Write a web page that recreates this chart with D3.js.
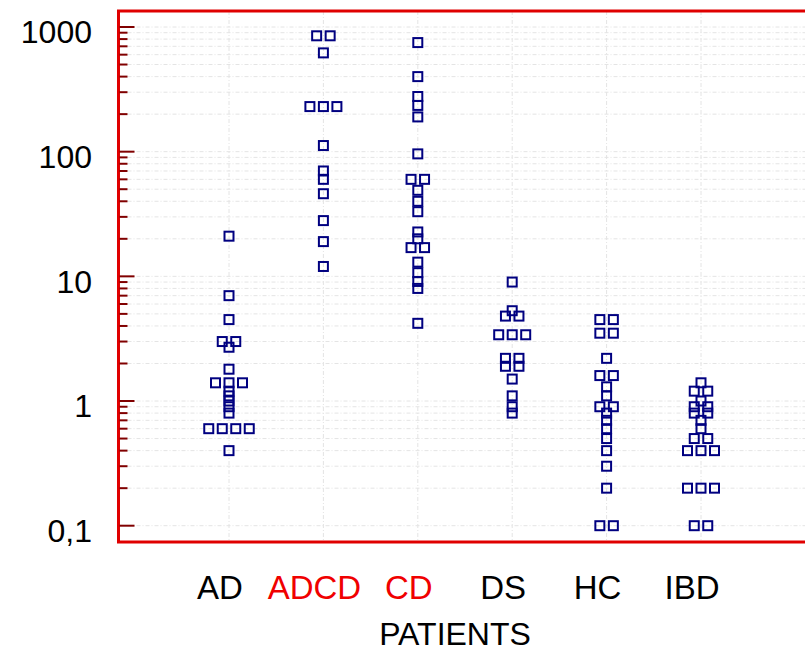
<!DOCTYPE html>
<html>
<head>
<meta charset="utf-8">
<script src="https://cdn.jsdelivr.net/npm/d3@7"></script>
<style>
  body { margin: 0; background: #fff; }
  svg { display: block; font-family: "Liberation Sans", Arial, sans-serif; }
</style>
</head>
<body>
<svg id="drawing_region"></svg>
<script>
// categories and values
const categories = ["AD", "ADCD", "CD", "DS", "HC", "IBD"];
const highlighted = ["ADCD", "CD"];

const adValues   = [21, 7, 4.5, 3, 3, 2.7, 1.8, 1.4, 1.4, 1.4, 1.2, 1.1, 1.0, 0.9, 0.8, 0.6, 0.6, 0.6, 0.6, 0.4];
const adcdValues = [850, 850, 620, 230, 230, 230, 112, 70, 60, 46, 28, 19, 12];
const cdValues   = [750, 400, 277, 235, 190, 96, 60, 60, 49, 40, 33, 22.7, 20, 17, 17, 13, 10.7, 9.1, 8, 4.2];
const dsValues   = [9, 5.3, 4.8, 4.8, 3.4, 3.4, 3.4, 2.2, 2.2, 1.9, 1.9, 1.5, 1.1, 0.9, 0.8];
const hcValues   = [4.5, 4.5, 3.5, 3.5, 2.2, 1.6, 1.6, 1.3, 1.1, 0.9, 0.9, 0.8, 0.7, 0.6, 0.5, 0.4, 0.3, 0.2, 0.1, 0.1];
const ibdValues  = [1.4, 1.2, 1.2, 1.0, 0.9, 0.9, 0.8, 0.8, 0.7, 0.6, 0.5, 0.5, 0.4, 0.4, 0.4, 0.2, 0.2, 0.2, 0.1, 0.1];

const seriesValues = [adValues, adcdValues, cdValues, dsValues, hcValues, ibdValues];

const tickValues = [0.1, 1, 10, 100, 1000];
const tickLabels = ["0,1", "1", "10", "100", "1000"];
const xTitle = "PATIENTS";

const config = {
    width: 805,
    height: 652,
    frame: {left: 118.5, top: 11, right: 812, bottom: 542},
    yDomain: [0.1, 1000],
    yRange: [525.7, 27],
    xRange: [229, 701],
    dodge: 13.5,
    markerSize: 9
};

// spread points with equal value side by side
const points = [];
categories.forEach((cat, ci) => {
    const groups = d3.group(seriesValues[ci], v => v);
    groups.forEach((vals, v) => {
        vals.forEach((_, i) => {
            points.push({cat: cat, value: v, k: i - (vals.length - 1) / 2});
        });
    });
});

const svg = d3.select("#drawing_region")
    .attr("width", config.width)
    .attr("height", config.height);

const f = config.frame;

const x = d3.scalePoint().domain(categories).range(config.xRange);
const y = d3.scaleLog().domain(config.yDomain).range(config.yRange);

// all log ticks (major + minor)
const allTicks = [];
for (let d = 0.1; d < 1000; d *= 10) {
    for (let m = 1; m < 10; m++) allTicks.push(+(d * m).toPrecision(3));
}
allTicks.push(1000);

// grid
svg.append("g").selectAll("line")
    .data(allTicks)
    .join("line")
    .attr("x1", f.left).attr("x2", f.right)
    .attr("y1", d => y(d)).attr("y2", d => y(d))
    .attr("stroke", "#e4e4e4")
    .attr("stroke-width", 1)
    .attr("stroke-dasharray", "4,2,1,2");

svg.append("g").selectAll("line")
    .data(categories)
    .join("line")
    .attr("x1", d => x(d)).attr("x2", d => x(d))
    .attr("y1", f.top).attr("y2", f.bottom)
    .attr("stroke", "#e4e4e4")
    .attr("stroke-width", 1)
    .attr("stroke-dasharray", "4,2,1,2");

// frame
svg.append("rect")
    .attr("x", f.left).attr("y", f.top)
    .attr("width", f.right - f.left).attr("height", f.bottom - f.top)
    .attr("fill", "none")
    .attr("stroke", "#e00000")
    .attr("stroke-width", 3);

// ticks
svg.append("g").selectAll("line")
    .data(allTicks)
    .join("line")
    .attr("x1", f.left + 1)
    .attr("x2", d => f.left + (tickValues.includes(d) ? 16 : 9))
    .attr("y1", d => y(d)).attr("y2", d => y(d))
    .attr("stroke", "#800000")
    .attr("stroke-width", 2);

svg.append("g").selectAll("text")
    .data(tickValues)
    .join("text")
    .attr("x", 92)
    .attr("y", d => y(d) + 5)
    .attr("dy", "0.35em")
    .attr("text-anchor", "end")
    .attr("font-size", 32)
    .attr("fill", "#000")
    .text((d, i) => tickLabels[i]);

// category labels
svg.append("g").selectAll("text")
    .data(categories)
    .join("text")
    .attr("x", d => x(d) - 9)
    .attr("y", 599)
    .attr("text-anchor", "middle")
    .attr("font-size", 33)
    .attr("fill", d => highlighted.includes(d) ? "#f00000" : "#000")
    .text(d => d);

svg.append("text")
    .attr("x", (config.xRange[0] + config.xRange[1]) / 2 - 10)
    .attr("y", 645)
    .attr("text-anchor", "middle")
    .attr("font-size", 32)
    .attr("fill", "#000")
    .text(xTitle);

// markers
const s = config.markerSize;
svg.append("g").selectAll("rect")
    .data(points)
    .join("rect")
    .attr("x", d => x(d.cat) + d.k * config.dodge - s / 2)
    .attr("y", d => y(d.value) - s / 2)
    .attr("width", s).attr("height", s)
    .attr("fill", "none")
    .attr("stroke", "#000080")
    .attr("stroke-width", 2);
</script>
</body>
</html>
